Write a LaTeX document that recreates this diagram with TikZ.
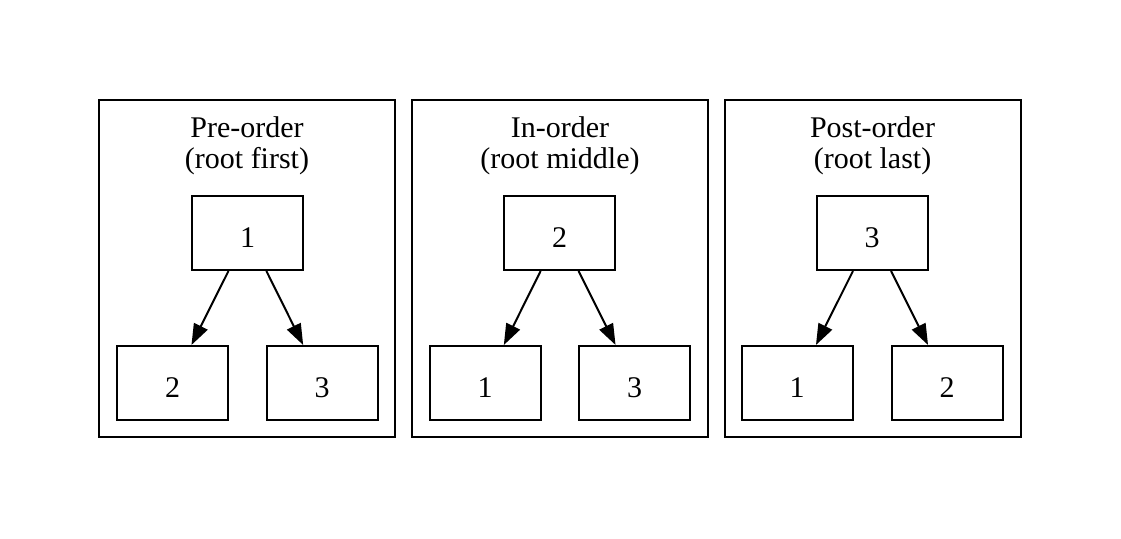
\documentclass[tikz,border=0pt]{standalone}
\usepackage{fontspec}
\setmainfont{Liberation Serif}
\usetikzlibrary{arrows.meta}
\begin{document}
\begin{tikzpicture}[x=1pt,y=-1pt,
  every node/.style={font=\fontsize{30}{31}\selectfont},
  treebox/.style={draw, line width=2pt, minimum width=111pt, minimum height=74pt, inner sep=0pt, text height=28pt, text depth=0pt},
  clusterbox/.style={draw, line width=2pt, minimum width=296pt, minimum height=337pt, inner sep=0pt},
  title/.style={align=center, inner sep=0pt},
  edge/.style={line width=2pt, -{Triangle[length=21pt, width=15pt]}}]
\useasboundingbox (0,0) rectangle (1121,538);
% clusters
\node[clusterbox] (c1) at (247,268.5) {};
\node[clusterbox] (c2) at (560,268.5) {};
\node[clusterbox] (c3) at (872.5,268.5) {};
% titles
\node[title] (t1) at (247,145.5) {Pre-order\\(root first)};
\node[title] (t2) at (560,145.5) {In-order\\(root middle)};
\node[title] (t3) at (872.5,145.5) {Post-order\\(root last)};
% pre-order
\node[treebox] (a1) at (247.5,233) {1};
\node[treebox] (a2) at (172.5,383) {2};
\node[treebox] (a3) at (322,383) {3};
% in-order
\node[treebox] (b1) at (559.5,233) {2};
\node[treebox] (b2) at (485,383) {1};
\node[treebox] (b3) at (634.5,383) {3};
% post-order
\node[treebox] (d1) at (872,233) {3};
\node[treebox] (d2) at (797,383) {1};
\node[treebox] (d3) at (947,383) {2};
% edges
\draw[edge] (a1) -- (a2);
\draw[edge] (a1) -- (a3);
\draw[edge] (b1) -- (b2);
\draw[edge] (b1) -- (b3);
\draw[edge] (d1) -- (d2);
\draw[edge] (d1) -- (d3);
\end{tikzpicture}
\end{document}
